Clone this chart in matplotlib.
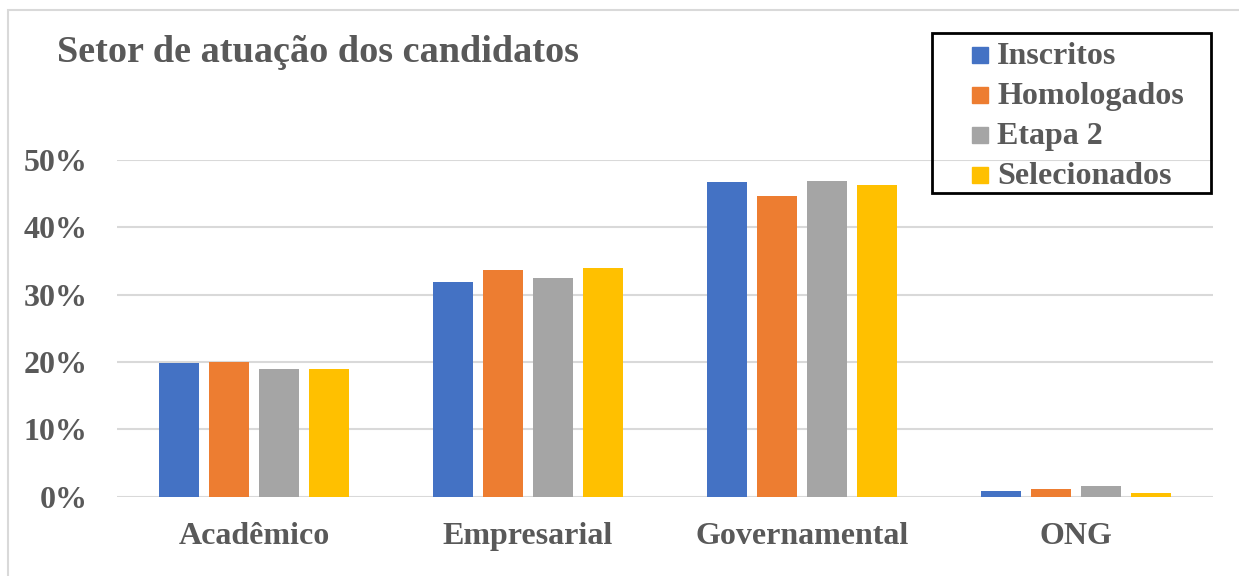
import matplotlib.pyplot as plt
import numpy as np
from matplotlib.patches import Rectangle

categorias = ['Acadêmico', 'Empresarial', 'Governamental', 'ONG']
inscritos = [19.8, 31.9, 46.7, 0.9]
homologados = [20.0, 33.6, 44.7, 1.2]
etapa2 = [19.0, 32.5, 46.9, 1.6]
selecionados = [19.0, 34.0, 46.3, 0.6]

series = ['Inscritos', 'Homologados', 'Etapa 2', 'Selecionados']
cores = ['#4472C4', '#ED7D31', '#A5A5A5', '#FFC000']
texto = '#595959'

plt.rcParams['font.family'] = ['Liberation Serif', 'DejaVu Serif']
plt.rcParams['font.weight'] = 'bold'

W, H = 1239, 576
fig = plt.figure(figsize=(W / 100, H / 100), dpi=100)
ax = fig.add_axes([117 / W, 1 - 496.7 / H, (1213 - 117) / W, (496.7 - 160) / H])


def px(x, y):
    # pixel (a partir do topo) -> coordenadas da figura
    return x / W, 1 - y / H


# moldura cinza clara do gráfico
fig.patches.append(Rectangle(px(8, 600), 1.2, (600 - 10) / H,
                             transform=fig.transFigure, fill=False,
                             edgecolor='#d9d9d9', linewidth=1.5))

x = np.arange(len(categorias))
passo = 0.182
largura = 0.146
for i, valores in enumerate([inscritos, homologados, etapa2, selecionados]):
    ax.bar(x + (i - 1.5) * passo, valores, largura, color=cores[i], label=series[i], zorder=3)

ax.set_xlim(-0.5, 3.5)
ax.set_ylim(0, 50)
ax.set_yticks(range(0, 51, 10))
ax.set_yticklabels([f'{v}%' for v in range(0, 51, 10)])
ax.set_xticks(x)
ax.set_xticklabels(categorias)
ax.grid(axis='y', color='#d9d9d9', linewidth=1.5, zorder=0)
for lado in ['top', 'right', 'left', 'bottom']:
    ax.spines[lado].set_visible(False)
ax.tick_params(axis='both', length=0, labelsize=23, labelcolor=texto)
ax.tick_params(axis='y', pad=21)
ax.tick_params(axis='x', pad=18)

fig.text(*px(57, 62), 'Setor de atuação dos candidatos', fontsize=27.5,
         color=texto, fontweight='bold', va='baseline', ha='left')

# legenda com moldura preta
x0, y0 = px(932, 193)
fig.patches.append(Rectangle((x0, y0), (1211 - 932) / W, 160 / H,
                             transform=fig.transFigure, fill=False,
                             edgecolor='black', linewidth=2, zorder=5))
for i, nome in enumerate(series):
    base = 64 + 40 * i
    fig.patches.append(Rectangle(px(972, base - 1), 16 / W, 16 / H,
                                 transform=fig.transFigure, color=cores[i], zorder=5))
    fig.text(*px(997, base), nome, fontsize=23, color=texto, fontweight='bold',
             va='baseline', ha='left', zorder=5)

fig.savefig('out.png', dpi=100)
